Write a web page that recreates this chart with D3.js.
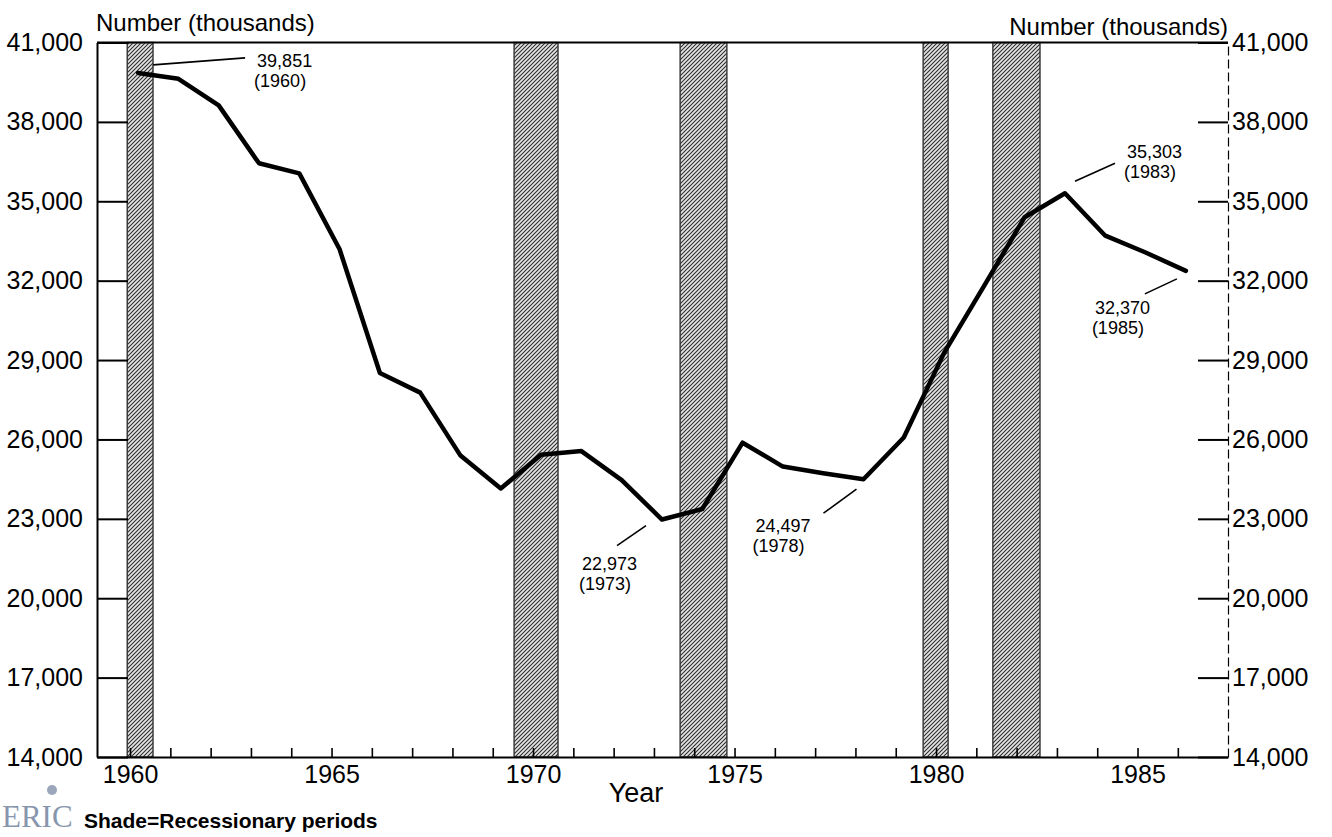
<!DOCTYPE html>
<html><head><meta charset="utf-8">
<script src="https://cdn.jsdelivr.net/npm/d3@7"></script>
<style>
html,body{margin:0;padding:0;background:#fff;}
svg{display:block;font-family:"Liberation Sans",Arial,Helvetica,sans-serif;}
</style></head><body>
<svg id="chart" width="1332" height="837"></svg>
<script>
// ---- data ----
const years = [1960,1961,1962,1963,1964,1965,1966,1967,1968,1969,1970,1971,1972,1973,1974,1975,1976,1977,1978,1979,1980,1981,1982,1983,1984,1985,1986];
const persons = [39851,39628,38625,36436,36055,33185,28510,27769,25389,24147,25420,25559,24460,22973,23370,25877,24975,24720,24497,26072,29272,31822,34398,35303,33700,33064,32370];
const yTicks = [14000,17000,20000,23000,26000,29000,32000,35000,38000,41000];
const xTickYears = [1960,1961,1962,1963,1964,1965,1966,1967,1968,1969,1970,1971,1972,1973,1974,1975,1976,1977,1978,1979,1980,1981,1982,1983,1984,1985,1986];
const xLabelYears = [1960,1965,1970,1975,1980,1985];
const recessionStart = [1959.93,1969.53,1973.65,1979.68,1981.41];
const recessionEnd   = [1960.57,1970.62,1974.81,1980.30,1982.58];
const noteValues = ["39,851","22,973","24,497","35,303","32,370"];
const noteYears  = ["(1960)","(1973)","(1978)","(1983)","(1985)"];
const noteIndex  = [0,13,18,23,26];

// ---- layout (styles / positions) ----
const L = 97, R = 1228, T = 42.5, B = 757;
const pointShift = 0.2;
const noteLayout = [
  {dx:119, dy1:-6, dy2:14, l:[15,-8,107,-15]},
  {dx:-80, dy1:50, dy2:70, l:[-45,26,-16,6]},
  {dx:-108, dy1:53, dy2:73, l:[-40,34,-7,10]},
  {dx:62, dy1:-35, dy2:-15, l:[10,-12,50,-30]},
  {dx:-91, dy1:43, dy2:63, l:[-41,23,-9,8]}
];

const svg = d3.select("#chart");
const x = d3.scaleLinear().domain([1959.18, 1987.245]).range([L, R]);
const y = d3.scaleLinear().domain([14000, 41000]).range([B, T]);

// pattern for recession shading
const defs = svg.append("defs");
const pat = defs.append("pattern").attr("id","stip").attr("patternUnits","userSpaceOnUse")
  .attr("width",4).attr("height",4);
pat.append("rect").attr("width",4).attr("height",4).attr("fill","#e4e4e4");
pat.append("path").attr("d","M0,4L4,0M-1,1L1,-1M3,5L5,3").attr("stroke","#2a2a2a").attr("stroke-width",1.05);

svg.append("g").selectAll("rect").data(recessionStart).join("rect")
  .attr("x", d => x(d))
  .attr("width", (d,i) => x(recessionEnd[i]) - x(d))
  .attr("y", y(41000)).attr("height", y(14000) - y(41000))
  .attr("fill","url(#stip)").attr("stroke","#333").attr("stroke-width",1.4);

// axes
const fontTick = 25;
const gl = svg.append("g").attr("transform",`translate(${L},0)`)
  .call(d3.axisLeft(y).tickValues(yTicks).tickSize(-31).tickSizeOuter(0).tickPadding(14).tickFormat(d3.format(",")));
const gr = svg.append("g").attr("transform",`translate(${R},0)`)
  .call(d3.axisRight(y).tickValues(yTicks).tickSize(-30).tickSizeOuter(0).tickPadding(4).tickFormat(d3.format(",")));
const gb = svg.append("g").attr("transform",`translate(0,${B})`)
  .call(d3.axisBottom(x).tickValues(xTickYears).tickSize(-9).tickSizeOuter(0).tickPadding(8)
    .tickFormat(d => xLabelYears.includes(d) ? String(d) : ""));
[gl,gr,gb].forEach(g => {
  g.selectAll("text").attr("font-size",fontTick).attr("fill","#000").attr("font-family","'Liberation Sans',Arial,sans-serif");
  g.selectAll("line").attr("stroke","#000").attr("stroke-width",2);
  g.select(".domain").attr("stroke","#000").attr("stroke-width",2);
});
gr.select(".domain").attr("stroke-width",1.2).attr("stroke-dasharray","9,4");
gb.selectAll(".tick line").attr("stroke-width",1.6);

// top frame
svg.append("line").attr("x1",x.range()[0]).attr("x2",x.range()[1]).attr("y1",y(41000)).attr("y2",y(41000))
  .attr("stroke","#000").attr("stroke-width",1.8);

// data line
const line = d3.line().x((d,i) => x(years[i] + pointShift)).y(d => y(d));
svg.append("path").datum(persons).attr("d",line).attr("fill","none")
  .attr("stroke","#000").attr("stroke-width",4.5).attr("stroke-linejoin","round").attr("stroke-linecap","round");

// annotations
const notes = svg.append("g").attr("font-size",18).attr("fill","#000");
noteIndex.forEach((idx,k) => {
  const px = x(years[idx] + pointShift), py = y(persons[idx]);
  const o = noteLayout[k];
  notes.append("line").attr("x1",px+o.l[0]).attr("y1",py+o.l[1]).attr("x2",px+o.l[2]).attr("y2",py+o.l[3])
    .attr("stroke","#000").attr("stroke-width",1.6);
  notes.append("text").attr("x",px+o.dx).attr("y",py+o.dy1).text(noteValues[k]);
  notes.append("text").attr("x",px+o.dx-3).attr("y",py+o.dy2).text(noteYears[k]);
});

// titles
svg.append("text").attr("x",96).attr("y",31).attr("font-size",24).text("Number (thousands)");
svg.append("text").attr("x",1228).attr("y",35).attr("font-size",24).attr("text-anchor","end").text("Number (thousands)");
svg.append("text").attr("x",636).attr("y",802).attr("font-size",27).attr("text-anchor","middle").text("Year");
svg.append("text").attr("x",84).attr("y",828).attr("font-size",21).attr("font-weight","bold").text("Shade=Recessionary periods");

// ERIC mark
svg.append("text").attr("x",2).attr("y",827).attr("font-size",31).attr("font-family","'Liberation Serif',serif")
  .attr("fill","#8796ad").text("ERIC");
svg.append("circle").attr("cx",52).attr("cy",790).attr("r",5).attr("fill","#9aa7ba");
</script>
</body></html>
